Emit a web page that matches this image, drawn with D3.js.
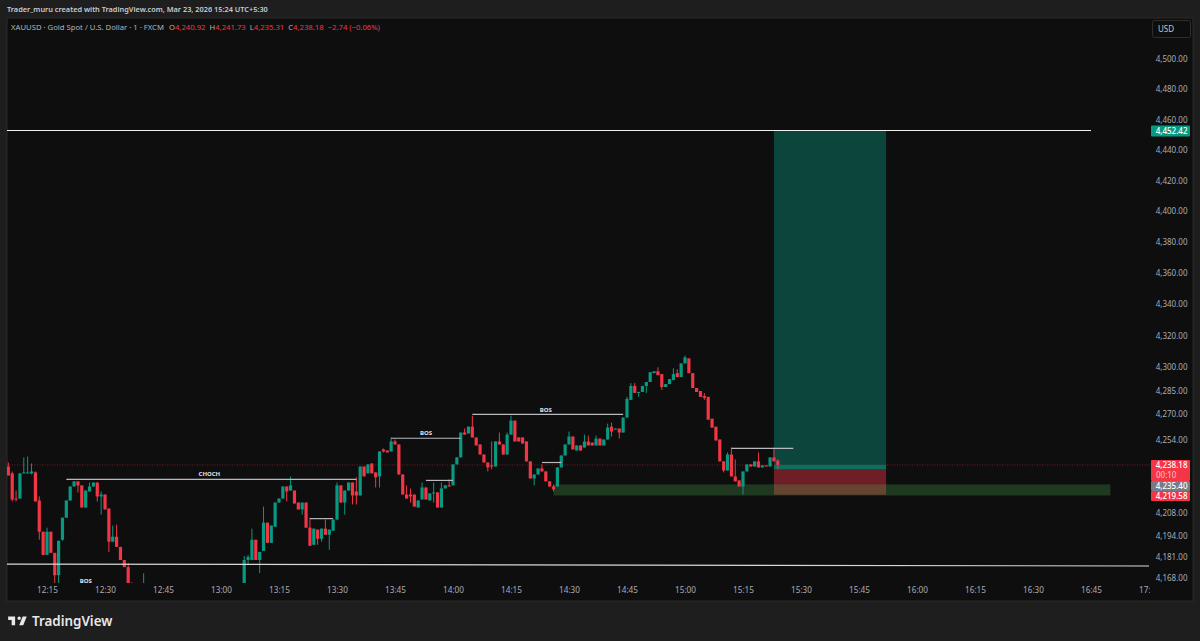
<!DOCTYPE html>
<html>
<head>
<meta charset="utf-8">
<script src="https://cdn.jsdelivr.net/npm/d3@7"></script>
<style>
  html, body { margin: 0; padding: 0; background: #1e1e1e; overflow: hidden; }
  text { font-family: "Noto Sans", "Open Sans", sans-serif; }
  .domain, .tick line { display: none; }
</style>
</head>
<body>
<script>
// 1 minute candles, 12:05 onwards. first run is 36 candles, then the chart dips
// below the visible area for 25 minutes, second run starts at 13:06
let firstRunLength = 36
let gapMinutes = 25

let opens = [
  4237.2,4232.9,4217.2,4217.2,4232.9,4232.9,4232.9,4233.5,4216.0,4196.6,4182.2,4196.6,4183.5,4169.7,4191.6,4205.3,4216.0,4224.7,
  4227.9,4225.4,4211.6,4221.6,4224.7,4227.2,4218.5,4219.7,4211.0,4190.4,4193.5,4187.2,4179.1,4174.7,4162.9,4160.4,4157.2,4154.1,
  4163.5,4179.1,4179.1,4191.6,4179.1,4184.7,4202.2,4189.7,4199.7,4214.7,4217.2,4224.7,4222.2,4222.2,4214.7,4210.4,4214.7,4199.1,
  4188.5,4197.9,4192.2,4198.5,4194.7,4197.2,4204.1,4225.4,4214.7,4222.2,4227.2,4221.6,4219.1,4237.2,4232.9,4239.1,4233.5,4231.0,
  4247.9,4247.2,4246.6,4252.9,4251.0,4232.2,4219.7,4219.7,4219.7,4211.6,4216.6,4224.1,4216.0,4220.4,4221.0,4211.6,4223.5,4225.4,
  4225.4,4238.5,4242.9,4258.5,4257.9,4262.2,4255.4,4251.0,4244.7,4239.7,4237.9,4237.2,4252.9,4251.0,4244.7,4257.2,4266.0,4255.4,
  4255.4,4252.9,4240.4,4229.7,4232.2,4236.0,4234.1,4227.9,4224.7,4224.7,4236.6,4244.1,4251.0,4256.0,4247.2,4250.4,4249.1,4252.9,
  4252.2,4250.4,4254.7,4250.4,4254.1,4262.2,4260.4,4261.0,4258.5,4267.9,4279.1,4287.9,4283.5,4284.1,4287.9,4290.4,4296.0,4297.2,
  4295.4,4287.2,4289.1,4291.6,4296.0,4293.5,4302.2,4305.4,4296.0,4286.6,4284.7,4281.6,4281.0,4267.2,4262.2,4254.1,4240.4,4234.7,
  4244.7,4231.0,4228.5,4224.7,4234.1,4238.5,4237.2,4240.4,4236.6,4237.9,4237.2,4242.9,4240.92
]
let highs = [
  4239.7,4234.1,4222.2,4232.9,4242.9,4243.5,4239.1,4234.1,4218.5,4196.6,4199.1,4196.6,4183.5,4191.0,4205.3,4216.0,4224.7,4227.9,
  4227.9,4225.4,4222.2,4227.2,4227.2,4227.2,4221.6,4219.7,4211.0,4200.4,4201.0,4187.2,4179.1,4177.2,4165.4,4160.4,4157.2,4171.0,
  4181.6,4182.2,4198.5,4191.6,4184.1,4212.2,4202.2,4200.4,4214.7,4217.2,4224.7,4224.7,4231.0,4222.2,4214.7,4214.7,4214.7,4205.3,
  4198.5,4197.9,4198.5,4204.1,4197.9,4204.1,4227.2,4225.4,4222.2,4227.2,4227.2,4230.4,4237.2,4237.2,4238.5,4239.1,4233.5,4246.6,
  4248.5,4247.2,4255.4,4254.1,4251.0,4232.2,4225.4,4223.5,4219.7,4216.0,4227.2,4224.1,4220.4,4227.2,4221.0,4227.2,4225.4,4229.1,
  4238.5,4242.9,4258.5,4261.0,4262.2,4269.1,4255.4,4251.0,4244.7,4239.7,4252.9,4252.9,4258.5,4251.0,4258.5,4269.1,4266.0,4255.4,
  4255.4,4252.9,4240.4,4232.2,4236.0,4238.5,4234.1,4227.9,4225.9,4236.6,4244.1,4251.0,4259.1,4256.0,4250.4,4250.4,4257.2,4256.6,
  4252.2,4256.6,4254.7,4254.1,4264.1,4264.7,4261.0,4261.0,4267.9,4281.0,4289.7,4289.7,4284.1,4287.9,4290.4,4296.6,4297.2,4299.7,
  4295.4,4289.1,4292.2,4299.1,4298.5,4302.2,4307.2,4305.4,4296.0,4286.6,4284.7,4283.5,4281.0,4267.2,4262.2,4254.1,4240.4,4246.0,
  4249.1,4241.6,4228.5,4234.1,4238.5,4238.5,4240.4,4246.0,4237.9,4237.9,4242.9,4249.1,4241.73
]
let lows = [
  4231.6,4215.4,4215.4,4217.2,4232.9,4232.9,4232.2,4215.4,4191.6,4182.2,4182.2,4183.5,4164.7,4164.7,4191.0,4205.3,4216.0,4224.7,
  4221.0,4211.6,4211.6,4221.6,4224.7,4215.4,4207.2,4210.4,4184.1,4190.4,4187.2,4179.1,4174.7,4160.4,4157.2,4154.1,4151.0,4154.1,
  4163.5,4176.0,4179.1,4179.1,4171.0,4184.7,4189.7,4189.7,4199.7,4214.7,4217.2,4215.4,4222.2,4214.1,4210.4,4207.2,4199.1,4187.9,
  4188.5,4188.5,4190.4,4194.7,4185.4,4197.2,4204.1,4214.7,4207.2,4222.2,4213.5,4213.5,4219.1,4231.0,4232.9,4232.9,4224.1,4224.1,
  4246.0,4246.0,4246.6,4251.0,4232.2,4219.7,4217.2,4214.7,4212.2,4211.6,4216.6,4216.6,4216.0,4214.7,4211.6,4211.6,4223.5,4224.7,
  4225.4,4238.5,4242.9,4257.2,4257.9,4255.4,4250.4,4244.7,4239.7,4234.1,4235.4,4237.2,4251.0,4244.7,4244.7,4257.2,4252.9,4252.9,
  4251.6,4240.4,4229.7,4225.4,4232.2,4234.1,4227.9,4224.7,4221.6,4224.7,4236.6,4244.1,4251.0,4247.9,4247.2,4247.2,4249.1,4250.4,
  4250.4,4250.4,4250.4,4250.4,4254.1,4256.0,4260.4,4254.7,4258.5,4267.9,4279.1,4283.5,4281.0,4284.1,4283.5,4290.4,4296.0,4294.7,
  4285.4,4287.2,4289.1,4291.6,4293.5,4293.5,4302.2,4296.0,4286.6,4284.1,4281.0,4279.1,4266.6,4261.6,4253.5,4240.4,4233.5,4234.7,
  4231.0,4227.9,4224.7,4219.7,4234.1,4237.2,4237.2,4236.6,4236.6,4237.2,4237.2,4240.4,4235.31
]
let closes = [
  4231.6,4216.6,4216.6,4232.9,4233.5,4233.5,4234.1,4215.4,4196.6,4182.2,4196.6,4183.5,4169.7,4191.0,4205.3,4216.0,4224.7,4227.9,
  4225.4,4211.6,4222.2,4224.7,4227.2,4218.5,4219.7,4210.4,4190.4,4193.5,4187.2,4179.1,4174.7,4160.4,4157.2,4154.1,4151.0,4160.4,
  4179.1,4181.0,4191.6,4179.1,4184.1,4202.2,4189.7,4200.4,4214.7,4217.2,4224.7,4221.6,4225.4,4214.1,4210.4,4214.7,4199.1,4187.9,
  4198.5,4192.2,4198.5,4194.7,4197.9,4204.1,4225.4,4214.7,4222.2,4227.2,4219.1,4219.1,4237.2,4231.0,4238.5,4232.9,4230.4,4246.6,
  4246.6,4246.0,4252.9,4251.0,4232.2,4219.7,4217.2,4218.5,4212.2,4216.0,4224.1,4216.6,4220.4,4221.0,4211.6,4223.5,4225.4,4224.7,
  4238.5,4242.9,4258.5,4257.2,4262.2,4255.4,4250.4,4244.7,4239.7,4236.6,4237.2,4252.9,4251.0,4244.7,4257.2,4266.0,4252.9,4252.9,
  4251.6,4240.4,4229.7,4232.2,4236.0,4234.1,4227.9,4224.7,4222.9,4236.6,4244.1,4251.0,4256.0,4247.9,4250.4,4247.2,4252.9,4250.4,
  4250.4,4254.7,4250.4,4254.1,4261.6,4259.1,4261.0,4258.5,4267.9,4279.7,4287.9,4283.5,4284.1,4287.9,4290.4,4296.6,4297.2,4294.7,
  4287.2,4289.1,4292.2,4295.4,4293.5,4302.2,4306.0,4296.0,4286.6,4284.1,4281.0,4280.4,4266.6,4261.6,4253.5,4240.4,4234.7,4244.7,
  4231.0,4227.9,4224.7,4234.1,4238.5,4237.2,4240.4,4236.6,4237.9,4237.2,4242.9,4240.4,4238.18
]

let priceTicks = [4500,4480,4460,4440,4420,4400,4380,4360,4340,4320,4300,4285,4270,4254,4208,4194,4181,4168]
let timeTicks = ['12:15','12:30','12:45','13:00','13:15','13:30','13:45','14:00','14:15','14:30','14:45','15:00','15:15','15:30','15:45','16:00','16:15','16:30','16:45','17:00']

// drawn on the chart by the trader
let levelStart = ['12:20','13:23','13:44','13:53','14:05','14:23','15:12']
let levelEnd   = ['13:35','13:29','14:02','14:00','14:44','14:28','15:28']
let levelPrice = [4229.1,4204.7,4254.9,4228.5,4269.9,4239.7,4248.5]

let zoneStart = '14:26', zoneEnd = '16:50', zoneTop = 4226.0, zoneBottom = 4219.1

let positionStart = '15:23', positionEnd = '15:52'
let targetPrice = 4452.42, entryPrice = 4235.40, stopPrice = 4219.58, lastPrice = 4238.18

let tagNames  = ['BOS','CHOCH','BOS','BOS']
let tagTimes  = ['12:25','12:57','13:53','14:24']
let tagPrices = [4166.0,4232.6,4258.2,4272.9]

let m = {
  width: 1200,
  height: 641,
  left: 7,
  right: 1193,
  top: 18,
  bottom: 601,
  plotRight: 1150,
  plotBottom: 583,
}

let green = '#089981'
let red = '#f23645'

function parseTime(s) {
  let parts = s.split(':')
  return new Date(2026, 2, 23, +parts[0], +parts[1])
}

function candleTime(i) {
  let minutes = 5 + i + (i < firstRunLength ? 0 : gapMinutes)
  return new Date(2026, 2, 23, 12, minutes)
}

let candles = opens.map(function(o, i) {
  return { time: candleTime(i), o: o, h: highs[i], l: lows[i], c: closes[i] }
})

let xScale = d3.scaleTime()
  .domain([parseTime('12:15'), parseTime('16:45')])
  .range([47, 1091])

// the price axis is logarithmic
let yScale = d3.scaleLog()
  .domain([4168, 4500])
  .range([578, 59])

let svg = d3.select('body')
  .append('svg')
  .attr('width', m.width)
  .attr('height', m.height)
  .style('display', 'block')

svg.append('rect')
  .attr('width', m.width)
  .attr('height', m.height)
  .attr('fill', '#1e1e1e')

svg.append('rect')
  .attr('x', m.left)
  .attr('y', m.top)
  .attr('width', m.right - m.left)
  .attr('height', m.bottom - m.top)
  .attr('fill', '#0e0e0e')
  .attr('stroke', '#2b2b2b')

let defs = svg.append('defs')
defs.append('clipPath').attr('id', 'plot')
  .append('rect')
  .attr('x', m.left).attr('y', m.top)
  .attr('width', m.plotRight - m.left).attr('height', m.plotBottom - m.top)
defs.append('clipPath').attr('id', 'timeClip')
  .append('rect')
  .attr('x', m.left).attr('y', m.plotBottom)
  .attr('width', m.plotRight - m.left).attr('height', m.bottom - m.plotBottom)

let plot = svg.append('g').attr('clip-path', 'url(#plot)')

// last price line
plot.append('line')
  .attr('x1', m.left).attr('x2', m.plotRight)
  .attr('y1', yScale(lastPrice)).attr('y2', yScale(lastPrice))
  .attr('stroke', red)
  .attr('stroke-opacity', 0.6)
  .attr('stroke-width', 0.7)
  .attr('stroke-dasharray', '1 1.5')

// long position box
function band(from, to, top, bottom, fill, opacity) {
  plot.append('rect')
    .attr('x', xScale(parseTime(from)))
    .attr('width', xScale(parseTime(to)) - xScale(parseTime(from)))
    .attr('y', yScale(top))
    .attr('height', yScale(bottom) - yScale(top))
    .attr('fill', fill)
    .attr('fill-opacity', opacity)
}

band(positionStart, positionEnd, targetPrice, entryPrice, green, 0.4)
band(positionStart, positionEnd, lastPrice, entryPrice, green, 0.5)
band(positionStart, positionEnd, entryPrice, stopPrice, red, 0.42)
band(zoneStart, zoneEnd, zoneTop, zoneBottom, '#4caf50', 0.27)

// wicks then bodies
plot.selectAll('.wick')
  .data(candles)
  .enter()
  .append('line')
    .attr('class', 'wick')
    .attr('x1', function(d) { return xScale(d.time) })
    .attr('x2', function(d) { return xScale(d.time) })
    .attr('y1', function(d) { return yScale(d.h) })
    .attr('y2', function(d) { return yScale(d.l) })
    .attr('stroke', function(d) { return d.c >= d.o ? green : red })
    .attr('stroke-width', 1)

plot.selectAll('.body')
  .data(candles)
  .enter()
  .append('rect')
    .attr('class', 'body')
    .attr('x', function(d) { return xScale(d.time) - 1.6 })
    .attr('width', 3.2)
    .attr('y', function(d) { return yScale(Math.max(d.o, d.c)) })
    .attr('height', function(d) { return Math.max(1, Math.abs(yScale(d.o) - yScale(d.c))) })
    .attr('fill', function(d) { return d.c >= d.o ? green : red })

// structure levels
plot.selectAll('.level')
  .data(levelPrice)
  .enter()
  .append('line')
    .attr('class', 'level')
    .attr('x1', function(d, i) { return xScale(parseTime(levelStart[i])) })
    .attr('x2', function(d, i) { return xScale(parseTime(levelEnd[i])) })
    .attr('y1', function(d) { return yScale(d) })
    .attr('y2', function(d) { return yScale(d) })
    .attr('stroke', '#b8bac0')
    .attr('stroke-width', 1.2)

// the two long horizontal lines
plot.append('line')
  .attr('x1', xScale(parseTime('12:04'))).attr('x2', xScale(parseTime('16:45')))
  .attr('y1', yScale(targetPrice) - 0.6).attr('y2', yScale(targetPrice) - 0.6)
  .attr('stroke', '#f0f0f0').attr('stroke-width', 1)
  .attr('shape-rendering', 'crispEdges')

plot.append('line')
  .attr('x1', xScale(parseTime('12:04'))).attr('x2', xScale(parseTime('17:00')))
  .attr('y1', yScale(4176.6)).attr('y2', yScale(4175.4))
  .attr('stroke', '#d8d8d8').attr('stroke-width', 1.2)

plot.selectAll('.tag')
  .data(tagNames)
  .enter()
  .append('text')
    .attr('class', 'tag')
    .attr('x', function(d, i) { return xScale(parseTime(tagTimes[i])) })
    .attr('y', function(d, i) { return yScale(tagPrices[i]) })
    .attr('dy', '0.35em')
    .attr('text-anchor', 'middle')
    .attr('font-size', 6)
    .attr('font-weight', 700)
    .attr('fill', '#e0e3eb')
    .text(function(d) { return d })

// axes
let yAxis = d3.axisRight(yScale)
  .tickValues(priceTicks)
  .tickFormat(d3.format(',.2f'))
  .tickSize(0)

svg.append('g')
  .attr('transform', 'translate(1187.5,0)')
  .call(yAxis)
  .call(function(g) {
    g.selectAll('text')
      .attr('x', 0)
      .attr('text-anchor', 'end')
      .attr('font-size', 8)
      .attr('font-family', '"Noto Sans", sans-serif')
      .attr('fill', '#a9acb5')
  })

let xAxis = d3.axisBottom(xScale)
  .tickValues(timeTicks.map(parseTime))
  .tickFormat(d3.timeFormat('%H:%M'))
  .tickSize(0)

svg.append('g')
  .attr('clip-path', 'url(#timeClip)')
  .append('g')
  .attr('transform', 'translate(0,' + (m.plotBottom + 1) + ')')
  .call(xAxis)
  .call(function(g) {
    g.selectAll('text')
      .attr('font-size', 8.2)
      .attr('font-family', '"Noto Sans", sans-serif')
      .attr('fill', '#a9acb5')
  })

// price tags on the right
function priceTag(y0, y1, fill) {
  svg.append('rect')
    .attr('x', 1151).attr('y', y0)
    .attr('width', 39).attr('height', y1 - y0)
    .attr('rx', 1)
    .attr('fill', fill)
}

function tagText(y, text, color) {
  svg.append('text')
    .attr('x', 1187.5).attr('y', y)
    .attr('dy', '0.35em')
    .attr('text-anchor', 'end')
    .attr('font-size', 8)
    .attr('font-weight', 500)
    .attr('fill', color)
    .text(text)
}

let lastY = yScale(lastPrice)
let fmt = d3.format(',.2f')

priceTag(yScale(targetPrice) - 5.5, yScale(targetPrice) + 5.5, green)
tagText(yScale(targetPrice), fmt(targetPrice), '#ffffff')

priceTag(lastY - 5, lastY + 16, red)
tagText(lastY, fmt(lastPrice), '#ffffff')

// countdown sits to the left, not right aligned like the prices
svg.append('text')
  .attr('x', 1156).attr('y', lastY + 10)
  .attr('dy', '0.35em')
  .attr('font-size', 8)
  .attr('fill', '#ffc4c9')
  .text('00:10')

// entry and stop tags are pushed down so they don't overlap the last price
priceTag(lastY + 16, lastY + 26, '#787b86')
tagText(lastY + 21, fmt(entryPrice), '#ffffff')

priceTag(lastY + 26, lastY + 36, red)
tagText(lastY + 31, fmt(stopPrice), '#ffffff')

// currency button
svg.append('rect')
  .attr('x', 1152.5).attr('y', 20.5)
  .attr('width', 38).attr('height', 17)
  .attr('rx', 2)
  .attr('fill', '#0e0e0e')
  .attr('stroke', '#2e2e2e')

svg.append('text')
  .attr('x', 1158).attr('y', 29)
  .attr('dy', '0.35em')
  .attr('font-size', 8)
  .attr('fill', '#c4c6cc')
  .text('USD')

// header
svg.append('text')
  .attr('x', 7).attr('y', 9.5)
  .attr('dy', '0.35em')
  .attr('font-size', 7.35)
  .attr('font-weight', 600)
  .attr('fill', '#c9cbd0')
  .text('Trader_muru created with TradingView.com, Mar 23, 2026 15:24 UTC+5:30')

let legend = svg.append('text')
  .attr('x', 11).attr('y', 27.5)
  .attr('dy', '0.35em')
  .attr('font-size', 7.7)
  .attr('fill', '#b2b5be')

legend.append('tspan').text('XAUUSD · Gold Spot / U.S. Dollar · 1 · FXCM')

let ohlc = [['O', opens], ['H', highs], ['L', lows], ['C', closes]]
ohlc.forEach(function(pair, i) {
  legend.append('tspan').attr('dx', i == 0 ? 5 : 4).text(pair[0])
  legend.append('tspan').attr('fill', red).text(fmt(pair[1][pair[1].length - 1]))
})
legend.append('tspan').attr('dx', 4).attr('fill', red).text('−2.74 (−0.06%)')

// footer logo
svg.append('path')
  .attr('transform', 'translate(7,613) scale(0.58)')
  .attr('d', 'M14 6H2v6h6v9h6V6zm14 15h-7l6-15h7l-6 15zm-7-9a3 3 0 1 0 0-6 3 3 0 0 0 0 6z')
  .attr('fill', '#e8e8e8')

svg.append('text')
  .attr('x', 32).attr('y', 621)
  .attr('dy', '0.35em')
  .attr('font-size', 13.4)
  .attr('font-weight', 600)
  .attr('fill', '#e8e8e8')
  .text('TradingView')
</script>
</body>
</html>
